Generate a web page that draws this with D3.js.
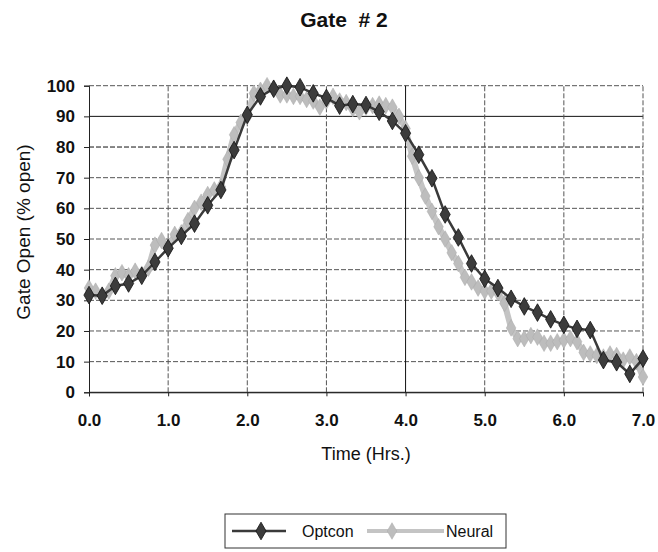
<!DOCTYPE html>
<html><head><meta charset="utf-8">
<script src="https://cdn.jsdelivr.net/npm/d3@7"></script>
<style>body{margin:0;background:#fff}svg{display:block}text{font-family:"Liberation Sans",Arial,sans-serif}</style>
</head><body>
<script>
const title = "Gate  # 2";
const xTicks = [0,1,2,3,4,5,6,7];
const yTicks = [0,10,20,30,40,50,60,70,80,90,100];
// Optcon: every 10 minutes (1/6 hr)
const optconValues = [31.7,31.5,34.7,35.5,38,42.5,47,51,55,61,66,79,90.5,96.5,99,100,99.5,97.5,96,93.5,94,93.7,91.5,88.5,84.5,77.5,69.8,58,50.5,42,37,34,30.5,28,26,23.8,22,20.7,20.3,10.5,9.8,6,11];
// Neural: every 5 minutes (1/12 hr)
const neuralValues = [34,33,31.5,33,38,39,38,39.5,38.5,40.5,48,49.5,47,51.5,52,56,60,62,64.5,66,67,76,84,88,90,97.5,98.5,100,99,97,97,96.5,96.5,95.5,95,93,95,96.5,95,94.5,92.5,91.5,93,93.5,94,93.5,93,90,86,77,70,64,59,54,50,45.5,42,37.5,36,34,33,33,32.5,29,21,17.5,17.5,18.5,18,16,16,16.5,17,17.5,16.5,13,12.5,12,11.5,12.5,12,10.5,11.5,10,5];
const seriesNames = ["Optcon","Neural"];

const W=658,H=552;
const svg=d3.select("body").append("svg").attr("width",W).attr("height",H);
const x=d3.scaleLinear().domain([0,7]).range([89,643]);
const y=d3.scaleLinear().domain([0,100]).range([392.3,85.7]);

const optcon=optconValues.map((v,i)=>({t:i/6,v}));
const neural=neuralValues.map((v,i)=>({t:i/12,v}));

// gridlines
const g=svg.append("g");
g.selectAll("line.h").data(yTicks).join("line")
 .attr("x1",x(0)).attr("x2",x(7)).attr("y1",d=>y(d)).attr("y2",d=>y(d))
 .attr("stroke",d=>d===90||d===0||d===80?"#111":"#555").attr("stroke-width",1)
 .attr("stroke-dasharray",d=>d===90||d===0?null:"5,2");
g.selectAll("line.v").data(xTicks.filter(d=>d>0)).join("line")
 .attr("y1",y(0)).attr("y2",y(100)).attr("x1",d=>x(d)).attr("x2",d=>x(d))
 .attr("stroke",d=>d===4?"#111":"#555").attr("stroke-width",1)
 .attr("stroke-dasharray",d=>d===4?null:"5,2");

// axes
const ya=svg.append("g").attr("transform",`translate(${x(0)},0)`)
 .call(d3.axisLeft(y).tickValues(yTicks).tickSize(5).tickPadding(9));
const xa=svg.append("g").attr("transform",`translate(0,${y(0)})`)
 .call(d3.axisBottom(x).tickValues(xTicks).tickFormat(d3.format(".1f")).tickSize(4).tickPadding(18));
[ya,xa].forEach(a=>{a.select(".domain").attr("stroke","#222");a.selectAll(".tick line").attr("stroke","#222");
 a.selectAll("text").attr("font-size",17).attr("font-weight","bold").attr("fill","#111").attr("font-family","Liberation Sans, Arial, sans-serif");});

const line=d3.line().x(d=>x(d.t)).y(d=>y(d.v));
const diamond=d3.symbol().type(d3.symbolDiamond);

// Neural
svg.append("path").datum(neural).attr("d",line).attr("fill","none").attr("stroke","#c4c4c4").attr("stroke-width",6).attr("stroke-linejoin","round");
svg.append("g").selectAll("path").data(neural).join("path")
 .attr("d",diamond.size(80)).attr("transform",d=>`translate(${x(d.t)},${y(d.v)})`)
 .attr("fill","#bdbdbd").attr("stroke","#aaa").attr("stroke-width",0.5);

// Optcon
svg.append("path").datum(optcon).attr("d",line).attr("fill","none").attr("stroke","#3a3a3a").attr("stroke-width",2.5);
svg.append("g").selectAll("path").data(optcon).join("path")
 .attr("d",diamond.size(90)).attr("transform",d=>`translate(${x(d.t)},${y(d.v)})`)
 .attr("fill","#3c3c3c").attr("stroke","#111").attr("stroke-width",0.8);

// titles
svg.append("text").attr("x",344).attr("y",27).attr("text-anchor","middle").attr("font-size",21).attr("font-weight","bold").attr("fill","#111").style("white-space","pre").text(title);
svg.append("text").attr("x",366).attr("y",460).attr("text-anchor","middle").attr("font-size",18).attr("fill","#111").text("Time (Hrs.)");
svg.append("text").attr("transform","translate(30,232) rotate(-90)").attr("text-anchor","middle").attr("font-size",19).attr("fill","#111").text("Gate Open (% open)");

// legend
const lg=svg.append("g");
lg.append("rect").attr("x",225).attr("y",514).attr("width",281).attr("height",34).attr("fill","#fff").attr("stroke","#333").attr("stroke-width",1);
const ly=531;
lg.append("line").attr("x1",232).attr("x2",286).attr("y1",ly).attr("y2",ly).attr("stroke","#3a3a3a").attr("stroke-width",2.5);
lg.append("path").attr("d",diamond.size(90)).attr("transform",`translate(261,${ly})`).attr("fill","#3c3c3c").attr("stroke","#111").attr("stroke-width",0.8);
lg.append("text").attr("x",302).attr("y",ly+6).attr("font-size",16).attr("fill","#111").text(seriesNames[0]);
lg.append("line").attr("x1",367).attr("x2",444).attr("y1",ly).attr("y2",ly).attr("stroke","#c4c4c4").attr("stroke-width",4);
lg.append("path").attr("d",diamond.size(80)).attr("transform",`translate(392,${ly})`).attr("fill","#bdbdbd").attr("stroke","#aaa").attr("stroke-width",0.5);
lg.append("text").attr("x",446).attr("y",ly+6).attr("font-size",16).attr("fill","#111").text(seriesNames[1]);
</script>
</body></html>
